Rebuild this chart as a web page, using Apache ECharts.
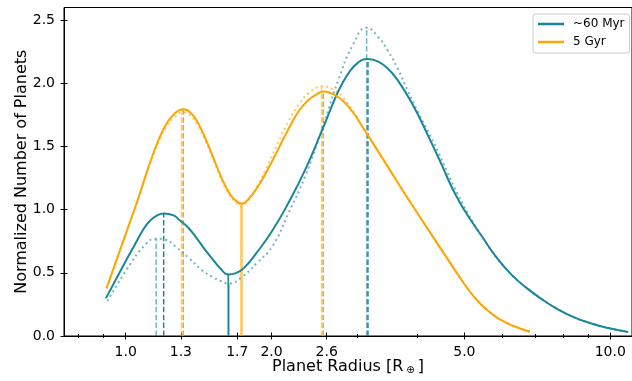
<!DOCTYPE html>
<html><head><meta charset="utf-8">
<script src="https://cdn.jsdelivr.net/npm/echarts@6/dist/echarts.min.js"></script>
<style>html,body{margin:0;padding:0;background:#fff}#c{width:632px;height:381px}</style>
</head><body><div id="c"></div>
<script>
// ---------- data ----------
const xTickLabels = [1.0, 1.3, 1.7, 2.0, 2.6, 5.0, 10.0];
const xMinorTicks = [0.8, 0.9, 2, 3, 4, 5, 6, 7, 8, 9];
const yTicks = [0.0, 0.5, 1.0, 1.5, 2.0, 2.5];

// ~60 Myr, solid curve
const tealR = [0.910, 1.003, 1.043, 1.085, 1.120, 1.157, 1.198, 1.255, 1.293, 1.345, 1.397, 1.451, 1.508, 1.567, 1.628, 1.689, 1.753, 1.864, 2.004, 2.168, 2.346, 2.537, 2.745, 2.877, 3.017, 3.162, 3.314, 3.475, 3.642, 3.910, 4.198, 4.505, 4.678, 4.859, 5.069, 5.441, 5.840, 6.268, 6.728, 7.222, 7.751, 8.400, 9.145, 9.906, 10.89];
const tealV = [0.298, 0.602, 0.719, 0.837, 0.908, 0.951, 0.970, 0.955, 0.916, 0.859, 0.781, 0.694, 0.613, 0.536, 0.487, 0.498, 0.537, 0.660, 0.829, 1.055, 1.315, 1.619, 1.935, 2.075, 2.164, 2.193, 2.174, 2.117, 2.025, 1.833, 1.594, 1.343, 1.201, 1.078, 0.960, 0.786, 0.616, 0.482, 0.379, 0.292, 0.217, 0.150, 0.099, 0.063, 0.032];
// ~60 Myr, dotted curve
const tealDotR = [0.917, 1.003, 1.103, 1.156, 1.208, 1.270, 1.352, 1.438, 1.510, 1.573, 1.634, 1.739, 1.864, 2.004, 2.168, 2.346, 2.537, 2.745, 2.946, 3.143, 3.314, 3.475, 3.642, 3.819, 4.004, 4.198, 4.400, 4.613, 4.835, 5.069, 5.441, 5.840, 6.268, 6.728, 7.222, 7.751, 8.400, 9.145, 9.906, 10.89];
const tealDotV = [0.276, 0.521, 0.732, 0.770, 0.762, 0.705, 0.616, 0.521, 0.468, 0.434, 0.416, 0.468, 0.577, 0.705, 0.972, 1.264, 1.627, 2.022, 2.306, 2.440, 2.370, 2.259, 2.117, 1.943, 1.777, 1.627, 1.469, 1.295, 1.130, 0.979, 0.786, 0.616, 0.482, 0.379, 0.292, 0.217, 0.150, 0.099, 0.063, 0.032];
// 5 Gyr, solid curve
const orangeR = [0.913, 1.000, 1.060, 1.109, 1.157, 1.212, 1.260, 1.315, 1.361, 1.410, 1.460, 1.513, 1.566, 1.622, 1.680, 1.739, 1.795, 1.882, 1.973, 2.068, 2.168, 2.273, 2.383, 2.474, 2.557, 2.681, 2.810, 2.946, 3.045, 3.162, 3.395, 3.614, 3.856, 4.133, 4.400, 4.613, 4.905, 5.233, 5.570, 5.933, 6.357, 6.832];
const orangeV = [0.377, 0.806, 1.082, 1.311, 1.509, 1.675, 1.758, 1.795, 1.767, 1.686, 1.565, 1.422, 1.279, 1.158, 1.077, 1.048, 1.086, 1.193, 1.331, 1.485, 1.639, 1.777, 1.868, 1.911, 1.935, 1.915, 1.860, 1.769, 1.686, 1.588, 1.402, 1.236, 1.066, 0.889, 0.731, 0.612, 0.458, 0.312, 0.205, 0.130, 0.075, 0.034];
// 5 Gyr, dotted curve
const orangeDotR = [0.913, 1.000, 1.060, 1.109, 1.157, 1.212, 1.260, 1.304, 1.361, 1.410, 1.460, 1.513, 1.566, 1.622, 1.680, 1.729, 1.795, 1.882, 1.973, 2.068, 2.168, 2.273, 2.383, 2.474, 2.537, 2.681, 2.810, 2.946, 3.045, 3.162, 3.395, 3.614, 3.856, 4.133, 4.400, 4.613, 4.905, 5.233, 5.570, 5.933, 6.357, 6.832];
const orangeDotV = [0.377, 0.806, 1.074, 1.311, 1.493, 1.651, 1.730, 1.767, 1.742, 1.662, 1.545, 1.405, 1.262, 1.143, 1.064, 1.031, 1.078, 1.210, 1.370, 1.540, 1.700, 1.830, 1.921, 1.965, 1.977, 1.950, 1.885, 1.780, 1.690, 1.588, 1.402, 1.236, 1.066, 0.889, 0.731, 0.612, 0.458, 0.312, 0.205, 0.130, 0.075, 0.034];

// peak / valley markers (radius, height)
const tealPeakR = [1.198, 3.162], tealPeakV = [0.970, 2.193];
const tealDotPeakR = [1.156, 3.143], tealDotPeakV = [0.770, 2.440];
const tealValleyR = [1.628], tealValleyV = [0.487];
const tealDotValleyR = [1.634], tealDotValleyV = [0.416];
const orangePeakR = [1.315, 2.557], orangePeakV = [1.795, 1.935];
const orangeDotPeakR = [1.304, 2.537], orangeDotPeakV = [1.767, 1.977];
const orangeValleyR = [1.739], orangeValleyV = [1.048];
const orangeDotValleyR = [1.729], orangeDotValleyV = [1.031];

// ---------- chart ----------
const TEAL = '#19869a', ORANGE = '#ffa500';
const FONT = 'DejaVu Sans';
const xMin = 0.746, xMax = 11.09;
const zip = (a, b) => a.map((v, i) => [v, b[i]]);
const tickLine = {color: '#000', width: 1};

function xAxisBase(extra) {
  return Object.assign({
    type: 'log', logBase: 10, min: xMin, max: xMax, position: 'bottom', gridIndex: 0,
    axisLine: {show: false}, axisLabel: {show: false}, axisTick: {show: false},
    splitLine: {show: false}, minorTick: {show: false}, minorSplitLine: {show: false}
  }, extra);
}
function yAxisBase(extra) {
  return Object.assign({
    type: 'value', min: 0, max: 2.6, position: 'left', gridIndex: 0,
    axisLine: {show: false}, axisLabel: {show: false}, axisTick: {show: false},
    splitLine: {show: false}
  }, extra);
}

function vlines(rs, vs, color, dash, opacity) {
  return rs.map((r, i) => ({
    type: 'line', data: [[r, 0], [r, vs[i]]], symbol: 'none', silent: true,
    lineStyle: {color: color, width: 1.5, type: dash, opacity: opacity}, z: 1
  }));
}

const SM = 0.5;
const series = [
  {name: '~60 Myr', type: 'line', data: zip(tealR, tealV), symbol: 'none', smooth: SM,
   lineStyle: {color: TEAL, width: 2}, itemStyle: {color: TEAL}, z: 3},
  {name: '5 Gyr', type: 'line', data: zip(orangeR, orangeV), symbol: 'none', smooth: SM,
   lineStyle: {color: ORANGE, width: 2}, itemStyle: {color: ORANGE}, z: 3},
  {name: 'teal dotted', type: 'line', data: zip(tealDotR, tealDotV), symbol: 'none', smooth: SM,
   lineStyle: {color: TEAL, width: 2, type: [2, 3.3], opacity: 0.6}, z: 2},
  {name: 'orange dotted', type: 'line', data: zip(orangeDotR, orangeDotV), symbol: 'none', smooth: SM,
   lineStyle: {color: ORANGE, width: 2, type: [2, 3.3], opacity: 0.6}, z: 2},
  ...vlines(tealPeakR, tealPeakV, TEAL, [5.5, 2.4], 1),
  ...vlines(tealDotPeakR, tealDotPeakV, TEAL, [5.5, 2.4], 0.6),
  ...vlines(tealValleyR, tealValleyV, TEAL, 'solid', 1),
  ...vlines(tealDotValleyR, tealDotValleyV, TEAL, 'solid', 0.6),
  ...vlines(orangePeakR, orangePeakV, ORANGE, [5.5, 2.4], 1),
  ...vlines(orangeDotPeakR, orangeDotPeakV, ORANGE, [5.5, 2.4], 0.6),
  ...vlines(orangeValleyR, orangeValleyV, ORANGE, 'solid', 0.6),
  ...vlines(orangeDotValleyR, orangeDotValleyV, ORANGE, 'solid', 0.6)
];

const chart = echarts.init(document.getElementById('c'), null, {renderer: 'canvas'});
chart.setOption({
  animation: false,
  backgroundColor: '#fff',
  textStyle: {fontFamily: FONT},
  grid: {left: 64, top: 7.5, right: -4, bottom: 45, show: true, borderColor: '#000', borderWidth: 1, backgroundColor: 'transparent'},
  legend: {
    data: ['~60 Myr', '5 Gyr'], orient: 'vertical', left: 533, top: 14,
    padding: [3, 5, 4, 5], itemGap: 4, itemWidth: 26, itemHeight: 2.5, icon: 'rect',
    borderColor: '#cccccc', borderWidth: 1, borderRadius: 3, backgroundColor: '#fff',
    textStyle: {fontFamily: FONT, fontSize: 12, color: '#000', lineHeight: 14, padding: [0, 0, 0, 4]}
  },
  xAxis: [
    xAxisBase({
      axisLine: {show: true, onZero: false, lineStyle: tickLine},
      axisTick: {show: true, customValues: xTickLabels, length: 3.5, inside: false, lineStyle: tickLine},
      axisLabel: {show: true, customValues: xTickLabels, formatter: v => Number(v).toFixed(1), margin: 9,
                  color: '#000', fontSize: 14, fontFamily: FONT},
      name: 'Planet Radius [R{s|⊕}]', nameLocation: 'middle', nameGap: 23, nameMoveOverlap: false,
      nameTextStyle: {fontSize: 16, fontFamily: FONT, color: '#000',
                      rich: {s: {fontSize: 10, fontFamily: FONT, color: '#000', verticalAlign: 'bottom', padding: [0, 3, 0, 3]}}}
    }),
    xAxisBase({axisTick: {show: true, customValues: xTickLabels, length: 3.5, inside: true, lineStyle: tickLine}}),
    xAxisBase({axisTick: {show: true, customValues: xMinorTicks, length: 2, inside: false, lineStyle: tickLine}}),
    xAxisBase({axisTick: {show: true, customValues: xMinorTicks, length: 2, inside: true, lineStyle: tickLine}})
  ],
  yAxis: [
    yAxisBase({
      axisLine: {show: true, onZero: false, lineStyle: tickLine},
      axisTick: {show: true, customValues: yTicks, length: 3.5, inside: false, lineStyle: tickLine},
      axisLabel: {show: true, customValues: yTicks, formatter: v => Number(v).toFixed(1), margin: 9,
                  color: '#000', fontSize: 14, fontFamily: FONT},
      name: 'Normalized Number of Planets', nameLocation: 'middle', nameGap: 34, nameMoveOverlap: false,
      nameTextStyle: {fontSize: 16, fontFamily: FONT, color: '#000'}
    }),
    yAxisBase({axisTick: {show: true, customValues: yTicks, length: 3.5, inside: true, lineStyle: tickLine}})
  ],
  series: series
});
</script></body></html>
